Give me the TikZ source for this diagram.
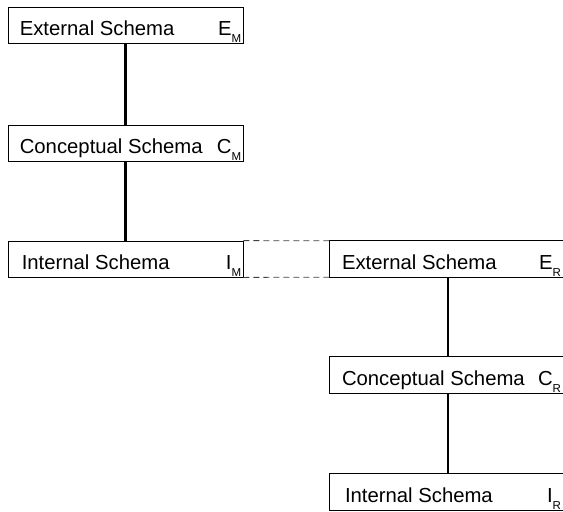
\documentclass[tikz,border=0pt]{standalone}
\usepackage{fontspec}
\setmainfont{Liberation Sans}
\begin{document}
\begin{tikzpicture}[x=1pt,y=-1pt,
  schemabox/.style={draw=black, line width=0.8pt, inner sep=0pt, minimum width=235pt, minimum height=36pt},
  openbox/.style={inner sep=0pt, minimum width=233pt, minimum height=36pt},
  lbl/.style={anchor=base west, inner sep=0pt, font=\fontsize{20.3}{23}\selectfont},
  sym/.style={anchor=base east, inner sep=0pt, font=\fontsize{20.3}{23}\selectfont},
  link/.style={line width=2.4pt},
  dash line/.style={line width=0.8pt, draw=black!75, dash pattern=on 6pt off 4pt}]
\useasboundingbox (0,0) rectangle (563,512);
\newcommand{\symsub}[2]{#1\raisebox{-7pt}{\fontsize{11.5}{12}\selectfont #2}}
% left column
\node[schemabox] (em) at (125.5,25) {};
\node[schemabox] (cm) at (125.5,143) {};
\node[schemabox] (im) at (125.5,259) {};
% right column (right edge runs off the picture)
\node[openbox] (er) at (446.5,259) {};
\node[openbox] (cr) at (446.5,375) {};
\node[openbox] (ir) at (446.5,492) {};
\foreach \n in {er,cr,ir}{
  \draw[line width=0.8pt] (\n.north east) -- (\n.north west) -- (\n.south west) -- (\n.south east);
}
% texts
\node[lbl] (emt) at ([xshift=12pt,yshift=-29pt]em.north west) {External Schema};
\node[sym] (ems) at ([xshift=-2pt,yshift=-29pt]em.north east) {\symsub{E}{M}};
\node[lbl] (cmt) at ([xshift=12pt,yshift=-29pt]cm.north west) {Conceptual Schema};
\node[sym] (cms) at ([xshift=-2pt,yshift=-29pt]cm.north east) {\symsub{C}{M}};
\node[lbl] (imt) at ([xshift=14pt,yshift=-29pt]im.north west) {Internal Schema};
\node[sym] (ims) at ([xshift=-2pt,yshift=-29pt]im.north east) {\symsub{I}{M}};
\node[lbl] (ert) at ([xshift=12pt,yshift=-29pt]er.north west) {External Schema};
\node[sym] (ers) at ([xshift=-2pt,yshift=-29pt]er.north east) {\symsub{E}{R}};
\node[lbl] (crt) at ([xshift=12pt,yshift=-29pt]cr.north west) {Conceptual Schema};
\node[sym] (crs) at ([xshift=-2pt,yshift=-29pt]cr.north east) {\symsub{C}{R}};
\node[lbl] (irt) at ([xshift=15pt,yshift=-29pt]ir.north west) {Internal Schema};
\node[sym] (irs) at ([xshift=-2pt,yshift=-29pt]ir.north east) {\symsub{I}{R}};
% connectors
\draw[link] (em.south) -- (cm.north);
\draw[link] (cm.south) -- (im.north);
\draw[link] ([xshift=1.5pt]er.south) -- ([xshift=1.5pt]cr.north);
\draw[link] ([xshift=1.5pt]cr.south) -- ([xshift=1.5pt]ir.north);
\draw[dash line] (im.north east) -- (er.north west);
\draw[dash line] (im.south east) -- (er.south west);
\end{tikzpicture}
\end{document}
